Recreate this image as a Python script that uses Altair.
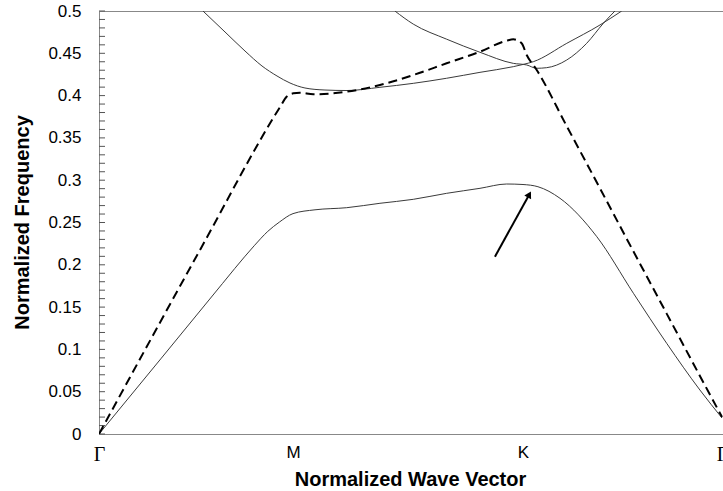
import altair as alt
import pandas as pd

# Path coordinate: Γ=0, M=1, K=2, Γ=3
tick_pos = [0, 1, 2, 3]
tick_text = ["Γ", "M", "K", "Γ"]
y_labels = [0, 0.05, 0.1, 0.15, 0.2, 0.25, 0.3, 0.35, 0.4, 0.45, 0.5]
y_minor = [0, 0.01, 0.02, 0.03, 0.04, 0.05, 0.06, 0.07, 0.08, 0.09, 0.1, 0.11, 0.12, 0.13, 0.14, 0.15,
           0.16, 0.17, 0.18, 0.19, 0.2, 0.21, 0.22, 0.23, 0.24, 0.25, 0.26, 0.27, 0.28, 0.29, 0.3, 0.31,
           0.32, 0.33, 0.34, 0.35, 0.36, 0.37, 0.38, 0.39, 0.4, 0.41, 0.42, 0.43, 0.44, 0.45, 0.46, 0.47,
           0.48, 0.49, 0.5]

# Band 1 (lower solid)
b1_k = [0, 0.637, 0.7, 0.8, 0.87, 0.93, 1.0, 1.0957, 1.2335, 1.378, 1.523, 1.668, 1.813, 1.929, 2.0,
        2.075, 2.186, 2.371, 2.555, 2.722, 2.889, 3.0]
b1_f = [0, 0.178, 0.1957, 0.2225, 0.2395, 0.2505, 0.2605, 0.265, 0.2675, 0.2727, 0.2774, 0.2845, 0.2904,
        0.2955, 0.2949, 0.2923, 0.2786, 0.2332, 0.1663, 0.1072, 0.052, 0.0189]

# Band 2 (dashed)
b2_k = [0, 0.5206, 0.933, 0.967, 1.0015, 1.03, 1.0883, 1.2335, 1.378, 1.523, 1.668, 1.813, 1.929, 1.958,
        1.994, 2.0186, 2.069, 2.22, 2.387, 2.521, 2.722, 2.889, 3.0]
b2_f = [0, 0.2175, 0.3865, 0.3987, 0.4027, 0.4034, 0.4015, 0.4046, 0.4125, 0.4243, 0.4382, 0.4519, 0.4649,
        0.4665, 0.4618, 0.448, 0.4303, 0.3638, 0.2903, 0.2308, 0.1423, 0.0686, 0.0201]

# Band 3 (upper solid, through M)
b3_k = [0.536, 0.6495, 0.7526, 0.8402, 0.9175, 0.9845, 1.052, 1.139, 1.2348, 1.378, 1.523, 1.668, 1.813,
        1.958, 2.0, 2.052, 2.22, 2.387, 2.496]
b3_f = [0.5, 0.4752, 0.4527, 0.435, 0.4232, 0.4149, 0.409, 0.4066, 0.406, 0.4098, 0.4145, 0.4205, 0.4275,
        0.4342, 0.4368, 0.4401, 0.4618, 0.4835, 0.5]

# Band 4 (upper solid, descending to K)
b4_k = [1.443, 1.523, 1.668, 1.813, 1.958, 2.0186, 2.069, 2.119, 2.22, 2.32, 2.404, 2.462]
b4_f = [0.5, 0.4845, 0.4667, 0.4512, 0.4381, 0.4362, 0.4323, 0.433, 0.4421, 0.4618, 0.4855, 0.5]

# Arrow annotation
arrow_k = [1.878, 2.0317]
arrow_f = [0.2096, 0.2832]
arrow_angle = 29

solid = pd.concat([
    pd.DataFrame({"k": b1_k, "f": b1_f, "band": "b1"}),
    pd.DataFrame({"k": b3_k, "f": b3_f, "band": "b3"}),
    pd.DataFrame({"k": b4_k, "f": b4_f, "band": "b4"}),
])
dashed = pd.DataFrame({"k": b2_k, "f": b2_f})
arrow = pd.DataFrame({"k": arrow_k, "f": arrow_f})
head = arrow.iloc[[1]]
minor = pd.DataFrame({"yt": y_minor, "x0": 0.0, "x1": 0.031})

W, H = 624, 423
xscale = alt.Scale(domain=[0, 1, 2, 3], range=[0, 194, 424, 623])
yscale = alt.Scale(domain=[0, 0.5], nice=False, zero=False)

label_expr = "datum.value == 1 ? 'M' : (datum.value == 2 ? 'K' : 'Γ')"

x_enc = alt.X(
    "k:Q", scale=xscale,
    axis=alt.Axis(
        values=tick_pos, labelExpr=label_expr, tickSize=0, labelPadding=10,
        labelFlush=False, labelOverlap=False, grid=False,
        domainColor="#888888", labelColor="#000000",
        labelFont={"condition": {"test": "datum.value == 0 || datum.value == 3", "value": "Liberation Serif"},
                   "value": "Liberation Sans"},
        labelFontSize={"condition": {"test": "datum.value == 0 || datum.value == 3", "value": 20},
                       "value": 17},
        title="Normalized Wave Vector", titleFont="Liberation Sans", titleFontSize=20,
        titleFontWeight="bold", titleColor="#000000", titleX=311, titleY=45,
        titleBaseline="middle", titleAlign="center",
    ),
)
y_enc = alt.Y(
    "f:Q", scale=yscale,
    axis=alt.Axis(
        values=y_labels, format=".2~f", tickSize=0, labelPadding=18, grid=False,
        domainColor="#888888", labelColor="#000000", labelFont="Liberation Sans", labelFontSize=17,
        title="Normalized Frequency", titleFont="Liberation Sans", titleFontSize=20,
        titleFontWeight="bold", titleColor="#000000", titleAngle=-90, titleX=-77, titleY=211,
        titleBaseline="middle", titleAlign="center",
    ),
)

solid_layer = alt.Chart(solid).mark_line(
    color="#3a3a3a", strokeWidth=1, interpolate="monotone", clip=True
).encode(x=x_enc, y=y_enc, detail="band:N")

dashed_layer = alt.Chart(dashed).mark_line(
    color="#000000", strokeWidth=2, strokeDash=[9, 5], interpolate="monotone", clip=True
).encode(x="k:Q", y="f:Q")

ticks_layer = alt.Chart(minor).mark_rule(color="#555555", strokeWidth=1, opacity=1).encode(
    y=alt.Y("yt:Q"), x=alt.X("x0:Q"), x2=alt.X2("x1:Q")
)

arrow_line = alt.Chart(arrow).mark_line(color="#000000", strokeWidth=2).encode(x="k:Q", y="f:Q")
arrow_head = alt.Chart(head).mark_point(
    shape="triangle-up", filled=True, color="#000000", size=60, angle=arrow_angle, opacity=1
).encode(x="k:Q", y="f:Q")

chart = alt.layer(ticks_layer, solid_layer, dashed_layer, arrow_line, arrow_head).properties(
    width=W, height=H,
    autosize=alt.AutoSizeParams(type="none"),
    padding={"left": 99, "top": 11, "right": 0, "bottom": 57},
    background="#ffffff",
).configure_view(stroke="#888888", strokeWidth=1)

chart.save("out.html", embed_options={"renderer": "svg", "actions": False})
